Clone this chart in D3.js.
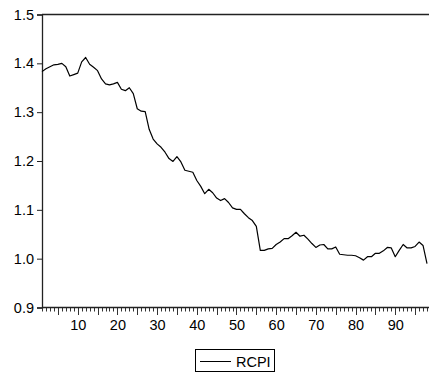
<!DOCTYPE html>
<html><head><meta charset="utf-8">
<script src="https://cdn.jsdelivr.net/npm/d3@7"></script>
<style>body{margin:0;background:#fff}svg{display:block}text{font-family:"Liberation Sans",Arial,sans-serif;fill:#000}</style>
</head><body>
<script>
const seriesName = "RCPI";
const rcpi = [1.383,1.389,1.393,1.397,1.398,1.400,1.393,1.374,1.377,1.380,
1.403,1.412,1.398,1.392,1.385,1.368,1.358,1.356,1.358,1.361,
1.347,1.344,1.350,1.338,1.307,1.302,1.301,1.265,1.245,1.235,
1.228,1.218,1.205,1.199,1.209,1.198,1.181,1.179,1.177,1.160,
1.148,1.133,1.142,1.135,1.124,1.119,1.123,1.115,1.104,1.101,
1.101,1.092,1.084,1.078,1.066,1.017,1.017,1.020,1.021,1.029,
1.034,1.041,1.041,1.047,1.054,1.046,1.048,1.040,1.031,1.023,
1.028,1.029,1.020,1.020,1.024,1.009,1.008,1.007,1.007,1.006,
1.002,0.997,1.004,1.004,1.011,1.011,1.016,1.023,1.022,1.004,
1.017,1.029,1.022,1.022,1.025,1.034,1.027,0.990];
const obs = rcpi.map((_, i) => i + 1);
const yTicks = [0.9, 1.0, 1.1, 1.2, 1.3, 1.4, 1.5];
const xLabelTicks = [10, 20, 30, 40, 50, 60, 70, 80, 90];

const W = 429, H = 374;
const L = 42, R = 427, T = 14.5, B = 307.5;
const svg = d3.select("body").append("svg").attr("width", W).attr("height", H);

const x = d3.scaleLinear().domain([1, 98]).range([L, R]);
const y = d3.scaleLinear().domain([0.9, 1.5]).range([B, T]);

// top border
svg.append("line").attr("x1", L).attr("x2", W).attr("y1", T).attr("y2", T)
  .attr("stroke", "#222").attr("stroke-width", 1.3);

// y axis
const yAxis = d3.axisLeft(y).tickValues(yTicks).tickFormat(d3.format(".1f")).tickSize(5).tickPadding(3);
const gy = svg.append("g").attr("transform", `translate(${L},0)`).call(yAxis);
gy.select(".domain").attr("stroke", "#222").attr("stroke-width", 1.3);
gy.selectAll(".tick line").attr("stroke", "#222");
gy.selectAll("text").style("font-size", "14.5px").attr("fill", "#000");

// x axis minor ticks
const minor = d3.range(1, 99);
const gx = svg.append("g").attr("transform", `translate(0,${B})`);
gx.selectAll("line.tk").data(minor).join("line").attr("class", "tk")
  .attr("x1", d => Math.round(x(d)) + 0.5).attr("x2", d => Math.round(x(d)) + 0.5)
  .attr("y1", 0).attr("y2", d => d % 5 === 0 ? 7.5 : 4)
  .attr("stroke", "#333").attr("stroke-width", 1);
gx.append("line").attr("x1", L).attr("x2", W).attr("y1", 0).attr("y2", 0)
  .attr("stroke", "#222").attr("stroke-width", 1.3);
const xAxis = d3.axisBottom(x).tickValues(xLabelTicks).tickSize(0).tickPadding(12);
const gxl = svg.append("g").attr("transform", `translate(0,${B})`).call(xAxis);
gxl.select(".domain").remove();
gxl.selectAll("text").style("font-size", "14.5px").attr("fill", "#000");

// data line
const line = d3.line().x((d, i) => x(obs[i])).y(d => y(d));
svg.append("path").datum(rcpi).attr("d", line).attr("fill", "none")
  .attr("stroke", "#000").attr("stroke-width", 1.2).attr("stroke-linejoin", "round");

// legend
const lg = svg.append("g");
lg.append("rect").attr("x", 195.5).attr("y", 349.5).attr("width", 79).attr("height", 22)
  .attr("fill", "#fff").attr("stroke", "#000").attr("stroke-width", 1);
lg.append("line").attr("x1", 200).attr("x2", 231).attr("y1", 361.5).attr("y2", 361.5)
  .attr("stroke", "#000").attr("stroke-width", 1);
lg.append("text").attr("x", 236).attr("y", 366.5).style("font-size", "14.5px").text(seriesName);
</script>
</body></html>
